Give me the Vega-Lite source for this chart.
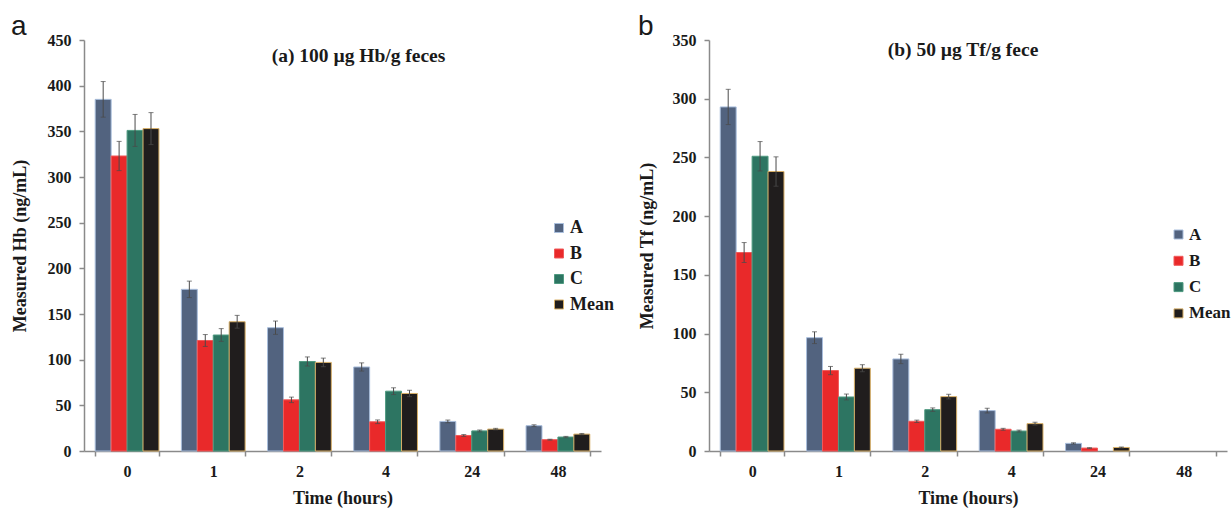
{
  "$schema": "https://vega.github.io/schema/vega-lite/v6.json",
  "background": "white",
  "padding": {"left": 11, "top": 13, "right": 2, "bottom": 2},
  "datasets": {
    "hb": [
      {"time": "0", "series": "A", "value": 385, "lo": 365.5, "hi": 404.5},
      {"time": "0", "series": "B", "value": 323, "lo": 307, "hi": 339},
      {"time": "0", "series": "C", "value": 351, "lo": 333.5, "hi": 368.5},
      {"time": "0", "series": "Mean", "value": 353, "lo": 335.5, "hi": 370.5},
      {"time": "1", "series": "A", "value": 177, "lo": 168, "hi": 186},
      {"time": "1", "series": "B", "value": 121, "lo": 114.5, "hi": 127.5},
      {"time": "1", "series": "C", "value": 127, "lo": 120, "hi": 134},
      {"time": "1", "series": "Mean", "value": 141.5, "lo": 134.5, "hi": 148.5},
      {"time": "2", "series": "A", "value": 135, "lo": 127.7, "hi": 142.3},
      {"time": "2", "series": "B", "value": 56, "lo": 53, "hi": 59},
      {"time": "2", "series": "C", "value": 98, "lo": 93, "hi": 103},
      {"time": "2", "series": "Mean", "value": 97, "lo": 92.3, "hi": 101.7},
      {"time": "4", "series": "A", "value": 92, "lo": 87.5, "hi": 96.5},
      {"time": "4", "series": "B", "value": 32, "lo": 30, "hi": 34},
      {"time": "4", "series": "C", "value": 65.5, "lo": 61.8, "hi": 69.2},
      {"time": "4", "series": "Mean", "value": 63, "lo": 59.5, "hi": 66.5},
      {"time": "24", "series": "A", "value": 32.4, "lo": 30.9, "hi": 33.9},
      {"time": "24", "series": "B", "value": 17, "lo": 16, "hi": 18},
      {"time": "24", "series": "C", "value": 22, "lo": 21, "hi": 23},
      {"time": "24", "series": "Mean", "value": 24, "lo": 23.2, "hi": 24.8},
      {"time": "48", "series": "A", "value": 27.7, "lo": 26.7, "hi": 28.7},
      {"time": "48", "series": "B", "value": 12.4, "lo": 11.9, "hi": 12.9},
      {"time": "48", "series": "C", "value": 15.3, "lo": 14.6, "hi": 16},
      {"time": "48", "series": "Mean", "value": 18.5, "lo": 17.8, "hi": 19.2}
    ],
    "tf": [
      {"time": "0", "series": "A", "value": 293, "lo": 278, "hi": 308},
      {"time": "0", "series": "B", "value": 169, "lo": 160.5, "hi": 177.5},
      {"time": "0", "series": "C", "value": 251, "lo": 238.5, "hi": 263.5},
      {"time": "0", "series": "Mean", "value": 238, "lo": 225.5, "hi": 250.5},
      {"time": "1", "series": "A", "value": 96.5, "lo": 91.5, "hi": 101.5},
      {"time": "1", "series": "B", "value": 68.5, "lo": 65, "hi": 72},
      {"time": "1", "series": "C", "value": 46, "lo": 43.5, "hi": 48.5},
      {"time": "1", "series": "Mean", "value": 70.5, "lo": 67.5, "hi": 73.5},
      {"time": "2", "series": "A", "value": 78.4, "lo": 74.4, "hi": 82.4},
      {"time": "2", "series": "B", "value": 25.3, "lo": 24.3, "hi": 26.3},
      {"time": "2", "series": "C", "value": 35.2, "lo": 33.7, "hi": 36.7},
      {"time": "2", "series": "Mean", "value": 46.3, "lo": 44.3, "hi": 48.3},
      {"time": "4", "series": "A", "value": 34.4, "lo": 32.4, "hi": 36.4},
      {"time": "4", "series": "B", "value": 18.5, "lo": 17.7, "hi": 19.3},
      {"time": "4", "series": "C", "value": 17, "lo": 16.2, "hi": 17.8},
      {"time": "4", "series": "Mean", "value": 23.3, "lo": 22.1, "hi": 24.5},
      {"time": "24", "series": "A", "value": 6.5, "lo": 6, "hi": 7},
      {"time": "24", "series": "B", "value": 2.5, "lo": 2.2, "hi": 2.8},
      {"time": "24", "series": "Mean", "value": 3, "lo": 2.6, "hi": 3.4}
    ]
  },
  "config": {
    "view": {"stroke": null},
    "font": "Liberation Serif",
    "axis": {
      "labelFont": "Liberation Serif", "labelFontWeight": "bold", "labelFontSize": 16, "labelColor": "#1a1a1a",
      "titleFont": "Liberation Serif", "titleFontWeight": "bold", "titleFontSize": 18, "titleColor": "#1a1a1a",
      "domainColor": "#8a8a8a", "tickColor": "#8a8a8a", "domainWidth": 1.5, "tickWidth": 1.5,
      "grid": false, "tickSize": 5
    },
    "legend": {
      "labelFont": "Liberation Serif", "labelFontWeight": "bold", "labelFontSize": 18, "labelColor": "#1a1a1a",
      "symbolType": "square", "symbolSize": 81, "symbolStrokeWidth": 1, "rowPadding": 7.5, "padding": 0, "labelOffset": 2
    },
    "title": {"font": "Liberation Serif", "fontWeight": "bold", "color": "#1a1a1a"}
  },
  "spacing": 24,
  "resolve": {
    "scale": {"fill": "independent", "stroke": "independent"},
    "legend": {"fill": "independent", "stroke": "independent"}
  },
  "hconcat": [
    {
      "title": {"text": "a", "anchor": "start", "frame": "bounds", "font": "Liberation Sans", "fontWeight": "normal", "fontSize": 28, "offset": -9},
      "hconcat": [
        {
          "title": {"text": "(a) 100 µg Hb/g feces", "anchor": "middle", "frame": "group", "fontSize": 19.5, "offset": -34, "dx": 16},
          "width": 517,
          "height": 411,
          "data": {"name": "hb"},
          "encoding": {
            "x": {"field": "time", "type": "nominal", "sort": ["0", "1", "2", "4", "24", "48"],
              "scale": {"paddingInner": 0.26, "paddingOuter": 0.13},
              "axis": {"title": "Time (hours)", "labelAngle": 0, "tickBand": "extent", "labelPadding": 7, "titlePadding": 10}},
            "xOffset": {"field": "series", "type": "nominal", "sort": ["A", "B", "C", "Mean"], "scale": {"paddingInner": 0, "paddingOuter": 0}}
          },
          "layer": [
            {
              "mark": {"type": "bar", "strokeWidth": 1},
              "encoding": {
                "y": {"field": "value", "type": "quantitative", "scale": {"domain": [0, 450]},
                  "axis": {"title": "Measured Hb (ng/mL)", "values": [0, 50, 100, 150, 200, 250, 300, 350, 400, 450], "labelPadding": 8, "titlePadding": 18}},
                "fill": {"field": "series", "type": "nominal", "sort": ["A", "B", "C", "Mean"],
                  "scale": {"domain": ["A", "B", "C", "Mean"], "range": ["#52637f", "#e9292a", "#2d7562", "#201d1d"]},
                  "legend": {"title": null, "orient": "none", "legendX": 466, "legendY": 179}},
                "stroke": {"field": "series", "type": "nominal", "sort": ["A", "B", "C", "Mean"],
                  "scale": {"domain": ["A", "B", "C", "Mean"], "range": ["#a9bedc", "#f05a5a", "#4f9a80", "#d8b068"]},
                  "legend": {"title": null, "orient": "none", "legendX": 466, "legendY": 179}}
              }
            },
            {
              "mark": {"type": "rule", "color": "#4a4a4a", "strokeWidth": 1},
              "encoding": {"y": {"field": "lo", "type": "quantitative"}, "y2": {"field": "hi"}}
            },
            {
              "mark": {"type": "tick", "color": "#4a4a4a", "size": 5, "thickness": 1},
              "encoding": {"y": {"field": "lo", "type": "quantitative"}}
            },
            {
              "mark": {"type": "tick", "color": "#4a4a4a", "size": 5, "thickness": 1},
              "encoding": {"y": {"field": "hi", "type": "quantitative"}}
            }
          ]
        }
      ]
    },
    {
      "title": {"text": "b", "anchor": "start", "frame": "bounds", "font": "Liberation Sans", "fontWeight": "normal", "fontSize": 28, "offset": -9},
      "hconcat": [
        {
          "title": {"text": "(b) 50 µg Tf/g fece", "anchor": "middle", "frame": "group", "fontSize": 19.5, "offset": -28, "dx": -5},
          "width": 518,
          "height": 411,
          "data": {"name": "tf"},
          "encoding": {
            "x": {"field": "time", "type": "nominal", "sort": ["0", "1", "2", "4", "24", "48"],
              "scale": {"domain": ["0", "1", "2", "4", "24", "48"], "paddingInner": 0.26, "paddingOuter": 0.13},
              "axis": {"title": "Time (hours)", "labelAngle": 0, "tickBand": "extent", "labelPadding": 7, "titlePadding": 10}},
            "xOffset": {"field": "series", "type": "nominal", "sort": ["A", "B", "C", "Mean"], "scale": {"domain": ["A", "B", "C", "Mean"], "paddingInner": 0, "paddingOuter": 0}}
          },
          "layer": [
            {
              "mark": {"type": "bar", "strokeWidth": 1},
              "encoding": {
                "y": {"field": "value", "type": "quantitative", "scale": {"domain": [0, 350]},
                  "axis": {"title": "Measured Tf (ng/mL)", "values": [0, 50, 100, 150, 200, 250, 300, 350], "labelPadding": 8, "titlePadding": 16}},
                "fill": {"field": "series", "type": "nominal", "sort": ["A", "B", "C", "Mean"],
                  "scale": {"domain": ["A", "B", "C", "Mean"], "range": ["#52637f", "#e9292a", "#2d7562", "#201d1d"]},
                  "legend": {"title": null, "orient": "none", "legendX": 461, "legendY": 186, "rowPadding": 8.3, "labelFontSize": 17}},
                "stroke": {"field": "series", "type": "nominal", "sort": ["A", "B", "C", "Mean"],
                  "scale": {"domain": ["A", "B", "C", "Mean"], "range": ["#a9bedc", "#f05a5a", "#4f9a80", "#d8b068"]},
                  "legend": {"title": null, "orient": "none", "legendX": 461, "legendY": 186, "rowPadding": 8.3, "labelFontSize": 17}}
              }
            },
            {
              "mark": {"type": "rule", "color": "#4a4a4a", "strokeWidth": 1},
              "encoding": {"y": {"field": "lo", "type": "quantitative"}, "y2": {"field": "hi"}}
            },
            {
              "mark": {"type": "tick", "color": "#4a4a4a", "size": 5, "thickness": 1},
              "encoding": {"y": {"field": "lo", "type": "quantitative"}}
            },
            {
              "mark": {"type": "tick", "color": "#4a4a4a", "size": 5, "thickness": 1},
              "encoding": {"y": {"field": "hi", "type": "quantitative"}}
            }
          ]
        }
      ]
    }
  ]
}
